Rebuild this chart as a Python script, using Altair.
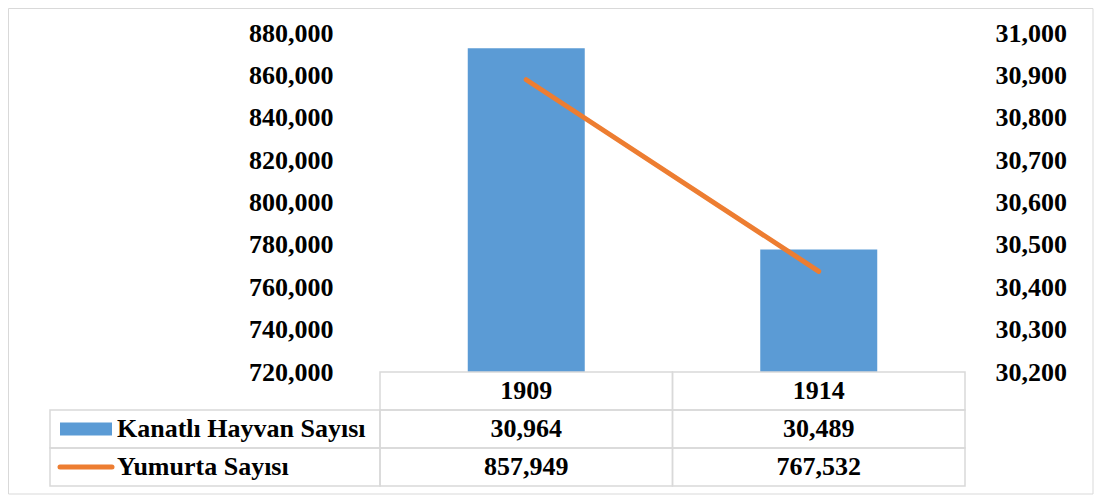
import altair as alt
import pandas as pd

years = ["1909", "1914"]
kanatli = [30964, 30489]          # Kanatlı Hayvan Sayısı (bars, right axis)
yumurta = [857949, 767532]        # Yumurta Sayısı (line, left axis)
series_names = ["Kanatlı Hayvan Sayısı", "Yumurta Sayısı"]
left_ticks = [720000, 740000, 760000, 780000, 800000, 820000, 840000, 860000, 880000]
right_ticks = [30200, 30300, 30400, 30500, 30600, 30700, 30800, 30900, 31000]

BLUE = "#5B9BD5"
ORANGE = "#ED7D31"
GRID = "#D9D9D9"
FONT = "Liberation Serif"
FS = 26
W, H = 585, 339
ROW_H = 38
LABEL_COL = 330
NOVIEW = alt.ViewBackground(stroke="transparent", strokeWidth=0)

df = pd.DataFrame({"year": years, "kanatli": kanatli, "yumurta": yumurta})

xs = alt.Scale(domain=years, paddingInner=0.6, paddingOuter=0.3)
base = alt.Chart(df).encode(x=alt.X("year:N", scale=xs, axis=None))

bars = base.mark_bar(color=BLUE).encode(
    y=alt.Y("kanatli:Q",
            scale=alt.Scale(domain=[right_ticks[0], right_ticks[-1]], zero=False, nice=False),
            axis=alt.Axis(orient="right", values=right_ticks, format=",.0f", title=None,
                          domain=False, ticks=False, grid=False, labelPadding=30,
                          labelFont=FONT, labelFontWeight="bold", labelFontSize=FS,
                          labelColor="black")),
    y2=alt.datum(right_ticks[0]),
)
line = base.mark_line(color=ORANGE, strokeWidth=5, strokeCap="round").encode(
    y=alt.Y("yumurta:Q",
            scale=alt.Scale(domain=[left_ticks[0], left_ticks[-1]], zero=False, nice=False),
            axis=alt.Axis(orient="left", values=left_ticks, format=",.0f", title=None,
                          domain=False, ticks=False, grid=False, labelPadding=47,
                          labelFont=FONT, labelFontWeight="bold", labelFontSize=FS,
                          labelColor="black")),
)
top = alt.layer(bars, line).resolve_scale(y="independent").properties(
    width=W, height=H, view=NOVIEW)

# ---- data table below the plot ----
row_keys = ["header"] + series_names
cells = []
for i, y in enumerate(years):
    cells.append({"year": y, "row": "header", "text": y})
    cells.append({"year": y, "row": series_names[0], "text": f"{kanatli[i]:,}"})
    cells.append({"year": y, "row": series_names[1], "text": f"{yumurta[i]:,}"})
cells_df = pd.DataFrame(cells)
labels_df = pd.DataFrame({"row": series_names, "text": series_names})

tx = alt.X("year:N", scale=alt.Scale(domain=years, paddingInner=0, paddingOuter=0), axis=None)
ty = alt.Y("row:N", scale=alt.Scale(domain=row_keys, paddingInner=0, paddingOuter=0), axis=None)

cell_rects = alt.Chart(cells_df).mark_rect(fillOpacity=0, stroke=GRID, strokeWidth=1.5).encode(x=tx, y=ty)
cell_text = alt.Chart(cells_df).mark_text(font=FONT, fontWeight="bold", fontSize=FS,
                                          color="black", baseline="middle").encode(x=tx, y=ty, text="text:N")
label_rects = alt.Chart(labels_df).mark_rect(fillOpacity=0, stroke=GRID, strokeWidth=1.5).encode(
    x=alt.value(-LABEL_COL), x2=alt.value(0), y=ty)
label_text = alt.Chart(labels_df).mark_text(font=FONT, fontWeight="bold", fontSize=FS, color="black",
                                            align="left", baseline="middle").encode(
    x=alt.value(-263), y=ty, text="text:N")
sw_bar = alt.Chart(labels_df).transform_filter(alt.datum.row == series_names[0]).mark_rule(
    color=BLUE, strokeWidth=13).encode(x=alt.value(-320), x2=alt.value(-268), y=ty)
sw_line = alt.Chart(labels_df).transform_filter(alt.datum.row == series_names[1]).mark_rule(
    color=ORANGE, strokeWidth=5, strokeCap="round").encode(x=alt.value(-320), x2=alt.value(-268), y=ty)
# outer chart-area border
border = alt.Chart(pd.DataFrame({"b": [0]})).mark_rect(
    fillOpacity=0, stroke=GRID, strokeWidth=1).encode(
    x=alt.value(-371.5), x2=alt.value(713), y=alt.value(-363.5), y2=alt.value(122))

table = alt.layer(border, cell_rects, label_rects, cell_text, label_text, sw_bar, sw_line).properties(
    width=W, height=ROW_H * 3, view=NOVIEW)

chart = alt.vconcat(top, table, spacing=0, bounds="flush").properties(
    padding=0
).configure_view(stroke="transparent", strokeWidth=0).configure(background="white")

chart.save("out.html", embed_options={"renderer": "svg", "actions": False})
